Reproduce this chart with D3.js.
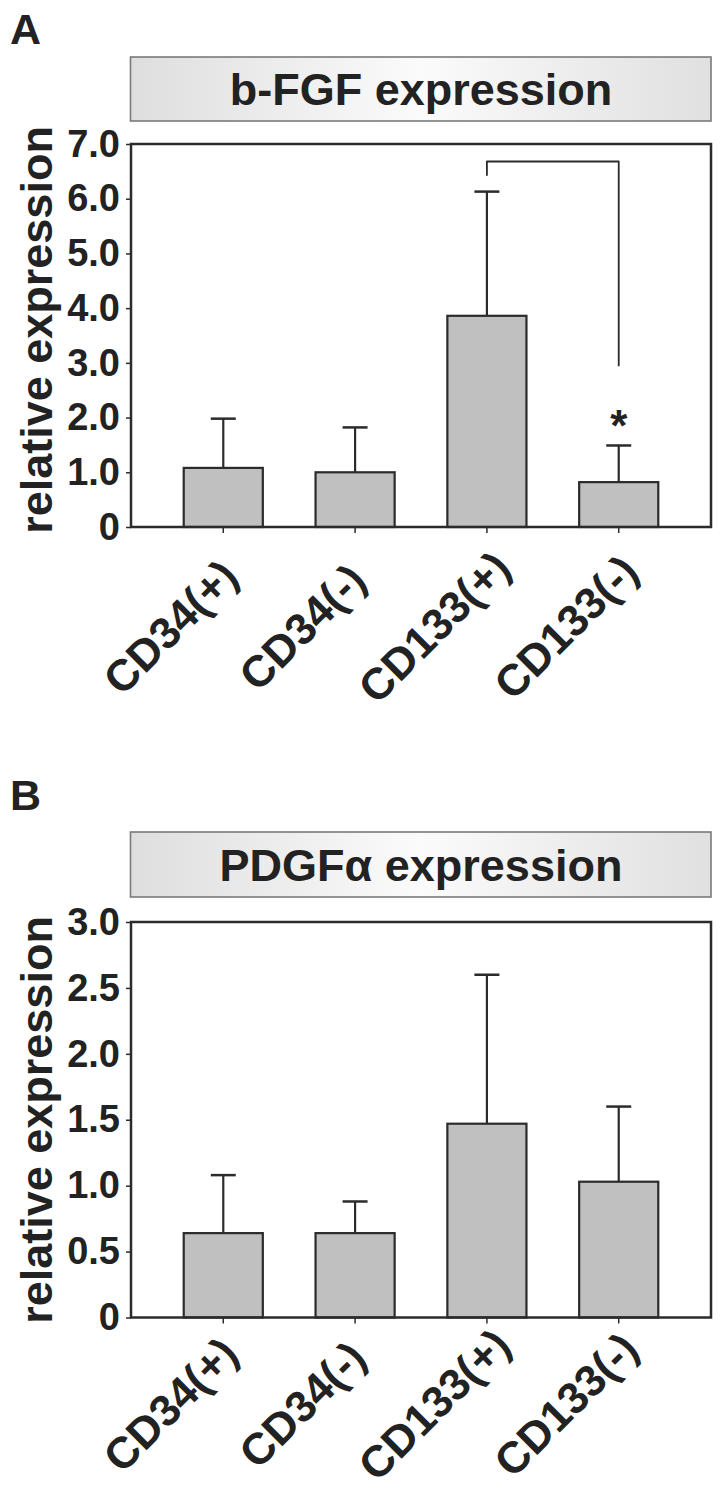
<!DOCTYPE html>
<html><head><meta charset="utf-8">
<script src="https://cdn.jsdelivr.net/npm/d3@7"></script>
<style>
body{margin:0;background:#fff}
text{font-family:"Liberation Sans",Arial,Helvetica,sans-serif;font-weight:bold;fill:#222}
</style>
</head><body>
<svg id="chart" width="727" height="1497"></svg>
<script>
// ---- data ----
const categories = ["CD34(+)", "CD34(-)", "CD133(+)", "CD133(-)"];
const bfgfMeans = [1.08, 1.00, 3.86, 0.82];
const bfgfUpper = [1.98, 1.82, 6.13, 1.49];
const pdgfMeans = [0.64, 0.64, 1.47, 1.03];
const pdgfUpper = [1.08, 0.88, 2.60, 1.60];
const bfgfTicks = [0, 1, 2, 3, 4, 5, 6, 7];
const bfgfTickLabels = ["0", "1.0", "2.0", "3.0", "4.0", "5.0", "6.0", "7.0"];
const pdgfTicks = [0, 0.5, 1, 1.5, 2, 2.5, 3];
const pdgfTickLabels = ["0", "0.5", "1.0", "1.5", "2.0", "2.5", "3.0"];
const bracketPair = ["CD133(+)", "CD133(-)"];
const bracketLevels = [6.42, 6.68, 2.94]; // left end, top, right end
const starCategory = "CD133(-)";
const starValue = 1.99;

const svg = d3.select("#chart");
const defs = svg.append("defs");
const grad = defs.append("linearGradient").attr("id", "titleGrad")
  .attr("x1", "0%").attr("x2", "100%").attr("y1", "0%").attr("y2", "0%");
grad.append("stop").attr("offset", "0%").attr("stop-color", "#dedede");
grad.append("stop").attr("offset", "50%").attr("stop-color", "#fbfbfb");
grad.append("stop").attr("offset", "100%").attr("stop-color", "#e0e0e0");

const DARK = "#2b2b2b";

function drawPanel(o) {
  const g = svg.append("g");
  // panel letter
  g.append("text").attr("x", 10).attr("y", o.letterY).attr("font-size", 43).text(o.letter);
  // title box
  g.append("rect").attr("x", 130.5).attr("y", o.titleTop).attr("width", 580.5)
    .attr("height", o.titleH).attr("fill", "url(#titleGrad)")
    .attr("stroke", "#7a7a7a").attr("stroke-width", 1.6);
  g.append("text").attr("x", 421).attr("y", o.titleTop + o.titleH / 2 + 16)
    .attr("text-anchor", "middle").attr("font-size", 45).text(o.title);

  const x = d3.scaleBand().domain(categories).range([131, 711]).paddingInner(0.4).paddingOuter(0.4);
  const y = d3.scaleLinear().domain(o.domain).range([o.bottom, o.top]);

  // y axis ticks/labels
  const ya = g.append("g").attr("transform", "translate(131,0)")
    .call(d3.axisLeft(y).tickValues(o.ticks).tickFormat((d, i) => o.tickLabels[i]).tickSize(5).tickPadding(6));
  ya.select(".domain").remove();
  ya.selectAll(".tick line").attr("stroke", DARK).attr("stroke-width", 1.5);
  ya.selectAll(".tick text").attr("font-size", 38).attr("fill", "#222")
    .attr("font-family", "Liberation Sans, Arial, sans-serif").attr("font-weight", "bold");

  // x axis ticks
  const xa = g.append("g").attr("transform", `translate(0,${o.bottom})`)
    .call(d3.axisBottom(x).tickSize(6).tickFormat(""));
  xa.select(".domain").remove();
  xa.selectAll(".tick line").attr("stroke", DARK).attr("stroke-width", 1.5);

  // bars
  const rows = categories.map((c, i) => ({c, m: o.means[i], u: o.upper[i]}));
  // error bars
  g.selectAll(".err").data(rows).join("line")
    .attr("x1", d => x(d.c) + x.bandwidth() / 2).attr("x2", d => x(d.c) + x.bandwidth() / 2)
    .attr("y1", d => y(d.m)).attr("y2", d => y(d.u))
    .attr("stroke", DARK).attr("stroke-width", 2.2);
  g.selectAll(".cap").data(rows).join("line")
    .attr("x1", d => x(d.c) + x.bandwidth() / 2 - 12.5).attr("x2", d => x(d.c) + x.bandwidth() / 2 + 12.5)
    .attr("y1", d => y(d.u)).attr("y2", d => y(d.u))
    .attr("stroke", DARK).attr("stroke-width", 2.5);
  g.selectAll(".bar").data(rows).join("rect")
    .attr("x", d => x(d.c)).attr("width", x.bandwidth())
    .attr("y", d => y(d.m)).attr("height", d => y(0) - y(d.m))
    .attr("fill", "#c0c0c0").attr("stroke", DARK).attr("stroke-width", 2.2);

  // frame
  g.append("rect").attr("x", 131).attr("y", o.top).attr("width", 580).attr("height", o.bottom - o.top)
    .attr("fill", "none").attr("stroke", DARK).attr("stroke-width", 2.5);

  // y label
  g.append("text").attr("transform", `translate(52,${o.ylabelY}) rotate(-90)`)
    .attr("text-anchor", "middle").attr("font-size", 45).text("relative expression");

  // x labels
  g.selectAll(".xl").data(categories).join("text")
    .attr("transform", d => `translate(${x(d) + x.bandwidth() / 2 - 53},${o.bottom + o.xlabDy}) rotate(-45)`)
    .attr("text-anchor", "middle").attr("dominant-baseline", "central")
    .attr("font-size", 44).text(d => d);

  if (o.bracket) {
    const xl = x(bracketPair[0]) + x.bandwidth() / 2;
    const xr = x(bracketPair[1]) + x.bandwidth() / 2;
    const path = d3.path();
    path.moveTo(xl, y(bracketLevels[0]));
    path.lineTo(xl, y(bracketLevels[1]));
    path.lineTo(xr, y(bracketLevels[1]));
    path.lineTo(xr, y(bracketLevels[2]));
    g.append("path").attr("d", path.toString()).attr("fill", "none")
      .attr("stroke", DARK).attr("stroke-width", 1.8).attr("stroke-linejoin", "round");
    g.append("text").attr("x", x(starCategory) + x.bandwidth() / 2).attr("y", y(starValue) + 23)
      .attr("text-anchor", "middle").attr("font-size", 44).text("*");
  }
}

drawPanel({letter: "A", letterY: 44, title: "b-FGF expression", titleTop: 57, titleH: 64,
  domain: [0, 7], top: 144, bottom: 527, ticks: bfgfTicks, tickLabels: bfgfTickLabels,
  means: bfgfMeans, upper: bfgfUpper, ylabelY: 330, xlabDy: 100, bracket: true});
drawPanel({letter: "B", letterY: 810, title: "PDGF\u03b1 expression", titleTop: 832, titleH: 65,
  domain: [0, 3], top: 922, bottom: 1317.5, ticks: pdgfTicks, tickLabels: pdgfTickLabels,
  means: pdgfMeans, upper: pdgfUpper, ylabelY: 1120, xlabDy: 87, bracket: false});
</script>
</body></html>
